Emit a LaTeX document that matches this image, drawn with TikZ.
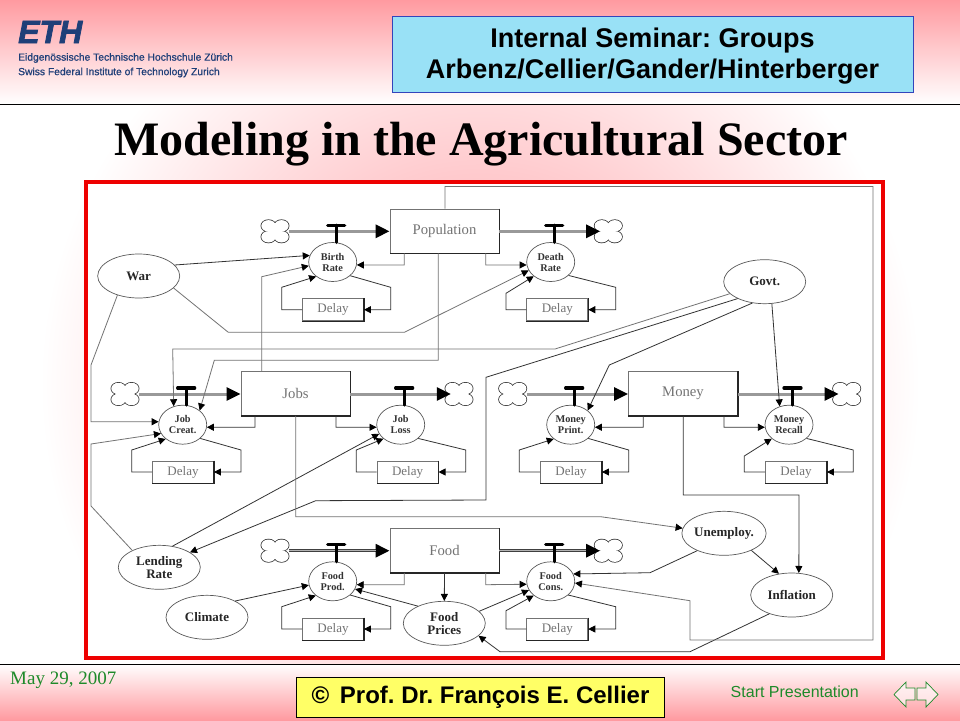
\documentclass[tikz,border=0pt]{standalone}
\usepackage{fontspec}
\setmainfont{Liberation Serif}
\newfontfamily\arialf{Liberation Sans}
\newfontfamily\ethfont[BoldItalicFeatures={FakeBold=2.5}]{Liberation Sans}
\newfontfamily\ethsub[UprightFeatures={FakeBold=0.7}]{Liberation Sans}
\usetikzlibrary{arrows.meta,shapes.geometric}
\definecolor{slidepink}{HTML}{FF9AA0}
\definecolor{hdrblue}{HTML}{99E1F6}
\definecolor{hdredge}{HTML}{3344BB}
\definecolor{ethblue}{HTML}{1F3F78}
\definecolor{navgreen}{HTML}{1E8A2A}
\definecolor{noteyellow}{HTML}{FFFF66}
\definecolor{framered}{HTML}{EE0000}
\tikzset{
  x=1pt,y=-1pt,
  stockbox/.style={draw=black!55,line width=0.9pt,fill=white,minimum width=109pt,minimum height=44pt,inner sep=0pt,text=black!55,font=\fontsize{14.7}{15}\selectfont},
  delaybox/.style={draw=black!55,line width=0.9pt,fill=white,minimum width=61pt,minimum height=22pt,inner sep=0pt,text=black!55,font=\fontsize{13}{13}\selectfont},
  edgeshade/.style={draw=black!85,line width=1.1pt},
  ratenode/.style={draw=black!65,line width=0.7pt,fill=white,ellipse,minimum width=48pt,minimum height=39pt,inner sep=0pt,align=center,font=\bfseries\fontsize{10.3}{11}\selectfont,text=black!80},
  auxnode/.style={draw=black!65,line width=0.7pt,fill=white,ellipse,minimum width=82pt,minimum height=44pt,inner sep=0pt,align=center,font=\bfseries\fontsize{13}{13}\selectfont,text=black!85},
  cloudnode/.style={rectangle,minimum width=28pt,minimum height=23pt,inner sep=0pt},
  lobestroke/.style={draw=black!80,line width=1.5pt},
  lobefill/.style={fill=white},
  wire/.style={draw=black!80,line width=0.8pt,-{Triangle[length=7pt,width=7pt,color=black]}},
  palewire/.style={wire,draw=black!55},
  flowline/.style={draw=black!40,line width=3pt,-{Triangle[length=14pt,width=13pt,color=black]}},
  foodline/.style={flowline,draw=black!75},
  foodcore/.style={draw=white!70!black,line width=0.8pt},
  valvestem/.style={draw=black,line width=3.3pt,line cap=round},
}
\newcommand{\valvemark}[1]{\draw[valvestem] (#1.80) -- ++(0,-17) ++(-8.5,0) -- ++(17,0);}
\newcommand{\cloudmark}[1]{%
  \foreach \sx/\sy in {-6.5/-5.5,6.5/-5.5,-6.5/5.5,6.5/5.5}{\draw[lobestroke] (#1) ++(\sx,\sy) ellipse [x radius=7.2,y radius=5.7];}%
  \foreach \sx/\sy in {-6.5/-5.5,6.5/-5.5,-6.5/5.5,6.5/5.5}{\fill[lobefill] (#1) ++(\sx,\sy) ellipse [x radius=7.2,y radius=5.7];}%
  \fill[lobefill] (#1) ++(-6.5,-5.5) rectangle ++(13,11);}
\begin{document}
\frenchspacing
\begin{tikzpicture}
\useasboundingbox (0,0) rectangle (960,720);
% background
\fill[white] (0,0) rectangle (960,720);
\shade[top color=slidepink,bottom color=white] (0,0) rectangle (960,104);
\shade[top color=white,bottom color=slidepink] (0,664) rectangle (960,720);
\begin{scope}
\clip (0,105) rectangle (960,664);
\shade[inner color=slidepink,outer color=white] (480,384) circle [radius=440];
\end{scope}
\draw[black,line width=1pt] (0,104) -- (960,104);
\draw[black,line width=1pt] (0,664) -- (960,664);
% header
\node[anchor=west,inner sep=0pt,text=ethblue,font=\ethfont\bfseries\itshape\fontsize{32}{32}\selectfont] (ethlogo) at (18,32) {ETH};
\node[anchor=west,inner sep=0pt,text=ethblue,font=\ethsub\fontsize{10.3}{12}\selectfont] (ethde) at (18,58) {Eidgenössische Technische Hochschule Zürich};
\node[anchor=west,inner sep=0pt,text=ethblue,font=\ethsub\fontsize{10.3}{12}\selectfont] (ethen) at (18,72.5) {Swiss Federal Institute of Technology Zurich};
\path[draw=hdredge,fill=hdrblue,line width=0.9pt] (392,16) rectangle (913,92);
\node[inner sep=0pt,font=\arialf\bfseries\fontsize{27}{31.5}\selectfont,align=center] (seminar) at (652.5,56) {Internal Seminar: Groups\\Arbenz/Cellier/Gander/Hinterberger};
\node[anchor=base,inner sep=0pt,font=\bfseries\fontsize{48}{48}\selectfont] (title) at (481,155) {Modeling in the Agricultural Sector};
% footer
\node[anchor=west,inner sep=0pt,text=navgreen,font=\fontsize{19}{19}\selectfont] (datelabel) at (10,680) {May 29, 2007};
\node[draw=black,line width=0.9pt,fill=noteyellow,minimum width=368pt,minimum height=40pt,inner sep=0pt,font=\arialf\bfseries\fontsize{24}{24}\selectfont] (credit) at (480.5,697) {©\, Prof. Dr. François E. Cellier};
\node[anchor=east,inner sep=0pt,text=navgreen,font=\arialf\fontsize{16}{16}\selectfont] (startlabel) at (859,691.5) {Start Presentation};
\draw[navgreen,line width=0.7pt,fill=white,fill opacity=0.6,line join=miter] (915,688) -- (906,688) -- (906,682) -- (894,694.5) -- (906,707) -- (906,700) -- (915,700) -- cycle;
\draw[navgreen,line width=0.7pt,fill=white,fill opacity=0.6,line join=miter] (917,688) -- (926,688) -- (926,682) -- (938,694.5) -- (926,707) -- (926,700) -- (917,700) -- cycle;
% frame
\path[draw=framered,fill=white,line width=4pt] (86,182) rectangle (883,658);
% stocks
\node[stockbox] (pop) at (444.5,231) {Population};
\node[stockbox] (jobs) at (295.5,393.5) {Jobs};
\node[stockbox] (money) at (683,393.5) {Money};
\node[stockbox] (food) at (444.5,550.5) {Food};
% rates
\node[ratenode] (birth) at (332.7,262) {Birth\\Rate};
\node[ratenode] (death) at (550.7,262) {Death\\Rate};
\node[ratenode] (jcreat) at (182.7,424.7) {Job\\Creat.};
\node[ratenode] (jloss) at (400.7,424.7) {Job\\Loss};
\node[ratenode] (mprint) at (570.7,424.7) {Money\\Print.};
\node[ratenode] (mrecall) at (789,424.7) {Money\\Recall};
\node[ratenode] (fprod) at (332.7,581.3) {Food\\Prod.};
\node[ratenode] (fcons) at (550.7,581.3) {Food\\Cons.};
% aux
\node[auxnode] (war) at (138.7,276) {War};
\node[auxnode] (govt) at (764.7,281.7) {Govt.};
\node[auxnode] (lending) at (159.3,567.3) {Lending\\Rate};
\node[auxnode] (climate) at (207,617.3) {Climate};
\node[auxnode] (fprices) at (444.3,623.3) {Food\\Prices};
\node[auxnode] (unemp) at (724,533.3) {Unemploy.};
\node[auxnode] (inflation) at (791.7,595) {Inflation};
% delays
\node[delaybox] (dbirth) at (333,309.7) {Delay};
\node[delaybox] (ddeath) at (557.3,309.7) {Delay};
\node[delaybox] (djc) at (183,472) {Delay};
\node[delaybox] (djl) at (407.6,472) {Delay};
\node[delaybox] (dmp) at (571,472) {Delay};
\node[delaybox] (dmr) at (796,472) {Delay};
\node[delaybox] (dfp) at (333,629) {Delay};
\node[delaybox] (dfc) at (557.3,629) {Delay};
\foreach \bx in {pop,jobs,money,food,dbirth,ddeath,djc,djl,dmp,dmr,dfp,dfc}{\draw[edgeshade] (\bx.north east) -- (\bx.south east) -- (\bx.south west);}
% clouds
\node[cloudnode] (c1) at (275,231.3) {};
\node[cloudnode] (c2) at (608.3,231.3) {};
\node[cloudnode] (c3) at (125,394) {};
\node[cloudnode] (c4) at (459,394) {};
\node[cloudnode] (c5) at (512.7,394) {};
\node[cloudnode] (c6) at (846.7,394) {};
\node[cloudnode] (c7) at (275,550.7) {};
\node[cloudnode] (c8) at (608.3,550.7) {};
\cloudmark{c1}\cloudmark{c2}\cloudmark{c3}\cloudmark{c4}\cloudmark{c5}\cloudmark{c6}\cloudmark{c7}\cloudmark{c8}
% flows
\draw[flowline] (c1) -- (pop.west |- c1);
\draw[flowline,shorten >=-6pt] (pop.east |- c2) -- (c2);
\draw[flowline] (c3) -- (jobs.west |- c3);
\draw[flowline,shorten >=-6pt] (jobs.east |- c4) -- (c4);
\draw[flowline] (c5) -- (money.west |- c5);
\draw[flowline,shorten >=-6pt] (money.east |- c6) -- (c6);
\draw[foodline] (c7) -- (food.west |- c7);
\draw[foodline,shorten >=-6pt] (food.east |- c8) -- (c8);
\draw[foodcore,shorten >=14pt] (c7) -- (food.west |- c7);
\draw[foodcore,shorten >=8pt] (food.east |- c8) -- (c8);
% valves
\valvemark{birth}\valvemark{death}\valvemark{jcreat}\valvemark{jloss}
\valvemark{mprint}\valvemark{mrecall}\valvemark{fprod}\valvemark{fcons}
% delay loops
\draw[wire] (birth.-38) -- (390.7,287.3) -- (390.7,309.7) -- (dbirth.east);
\draw[wire] (dbirth.west) -- (281.7,309.7) -- (281.7,287.3) -- (birth.221);
\draw[wire] (death.-37) -- (615.7,287.3) -- (615.7,309.7) -- (ddeath.east);
\draw[wire] (ddeath.west) -- (506,309.7) -- (506,293.3) -- (death.220);
\draw[wire] (jcreat.-38) -- (241,450) -- (241,472) -- (djc.east);
\draw[wire] (djc.west) -- (131.7,472) -- (131.7,450) -- (jcreat.220);
\draw[wire] (jloss.-38) -- (465.7,450) -- (465.7,472) -- (djl.east);
\draw[wire] (djl.west) -- (356.3,472) -- (356.3,450) -- (jloss.219);
\draw[wire] (mprint.-38) -- (628.7,450) -- (628.7,472) -- (dmp.east);
\draw[wire] (dmp.west) -- (519.3,472) -- (519.3,450) -- (mprint.220);
\draw[wire] (mrecall.-38) -- (853.3,450) -- (853.3,472) -- (dmr.east);
\draw[wire] (dmr.west) -- (744.3,472) -- (744.3,456) -- (mrecall.219);
\draw[wire] (fprod.-38) -- (390.7,606.7) -- (390.7,629) -- (dfp.east);
\draw[wire] (dfp.west) -- (281.7,629) -- (281.7,606.7) -- (fprod.220);
\draw[wire] (fcons.-38) -- (615.7,606.7) -- (615.7,629) -- (dfc.east);
\draw[wire] (dfc.west) -- (506,629) -- (506,610.7) -- (fcons.220);
% stock to rate
\draw[palewire] (404.3,0 |- pop.south) -- (404.3,265) -- (birth.-7);
\draw[palewire] (485.7,0 |- pop.south) -- (485.7,265) -- (death.187);
\draw[wire] (255,0 |- jobs.south) -- (255,427.3) -- (jcreat.-6);
\draw[wire] (336,0 |- jobs.south) -- (336,427.3) -- (jloss.186);
\draw[wire] (643.3,0 |- money.south) -- (643.3,427.3) -- (mprint.-6);
\draw[wire] (724,0 |- money.south) -- (724,427.3) -- (mrecall.186);
\draw[palewire] (404.3,0 |- food.south) -- (404.3,584.7) -- (fprod.-8);
\draw[palewire] (485.7,0 |- food.south) -- (485.7,584.7) -- (fcons.187);
\draw[wire] (food.south) -- (fprices.north);
% cross links
\draw[wire] (war.17) -- (birth.164);
\draw[palewire] (261.7,0 |- jobs.north) -- (261.7,276.7) -- (birth.189);
\draw[palewire] (war.-19) -- (228.3,332.3) -- (404.3,332.3) -- (death.201);
\draw[palewire] (438.3,0 |- pop.south) -- (438.3,360.3) -- (214.3,360.3) -- (jcreat.40);
\draw[palewire] (govt.199.5) -- (555,349) -- (172.7,349) -- (jcreat.116);
\draw[wire] (govt.212) -- (486,377.3) -- (486,500) -- (315.7,500.7) -- (lending.26);
\draw[wire] (govt.240) -- (609.3,365) -- (mprint.40);
\draw[wire] (govt.288) -- (mrecall.117);
\draw[palewire] (war.222) -- (91,365) -- (91,421.7) -- (jcreat.173);
\draw[palewire] (lending.148) -- (91,506) -- (91,444) -- (jcreat.202);
\draw[wire] (lending.58) -- (jloss.203);
\draw[palewire] (295.7,0 |- jobs.south) -- (295.7,516.7) -- (600.7,516.7) -- (unemp.173);
\draw[wire] (683.3,0 |- money.south) -- (683.3,495) -- (799,495) -- (inflation.72);
\draw[wire] (fprices.147) -- (fprod.-19);
\draw[wire] (fprices.19) -- (fcons.202);
\draw[wire] (climate.30) -- (fprod.189);
\draw[wire] (unemp.213) -- (650,572.7) -- (fcons.18);
\draw[wire] (unemp.-32.6) -- (inflation.121);
\draw[wire] (inflation.220) -- (690,651.7) -- (500,651.7) -- (fprices.-20.6);
\draw[palewire] (445,0 |- pop.north) -- (445,186.5) -- (873,186.5) -- (873,640) -- (690,640) -- (690,600.7) -- (fcons.-4);
\end{tikzpicture}
\end{document}
